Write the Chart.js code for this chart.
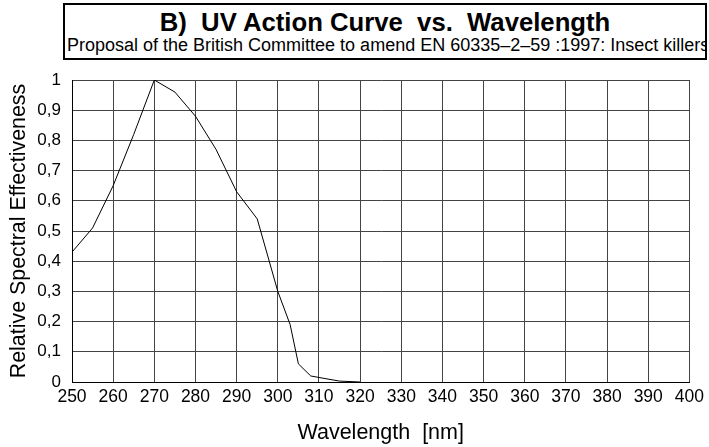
<!DOCTYPE html>
<html>
<head>
<meta charset="utf-8">
<script src="https://cdn.jsdelivr.net/npm/chart.js@4/dist/chart.umd.min.js"></script>
<style>
  body { margin: 0; background: #fff; font-family: "Liberation Sans", Arial, sans-serif; }
  #wrap { position: relative; width: 709px; height: 447px; }
  #titleBox {
    position: absolute; left: 63px; top: 3px; width: 640px; height: 53px;
    border: 2px solid #000; overflow: hidden; white-space: nowrap; background: #fff;
  }
  #titleBox .main { position: absolute; left: 0; right: 0; top: 2px; text-align: center; font-weight: bold; font-size: 25.7px; line-height: 30px; }
  #titleBox .sub { position: absolute; left: 2px; top: 30px; font-size: 18px; line-height: 21px; }
</style>
</head>
<body>
<div id="wrap">
  <canvas id="chart" width="709" height="447"></canvas>
  <div id="titleBox">
    <div class="main">B)&nbsp; UV Action Curve&nbsp; vs.&nbsp; Wavelength</div>
    <div class="sub">Proposal of the British Committee to amend EN 60335–2–59 :1997: Insect killers</div>
  </div>
</div>
<script>
// wavelength in nm
const wavelengths = [250, 255, 260, 265, 270, 275, 280, 285, 290, 295, 300, 303, 305, 308, 310, 315, 320];
// relative spectral effectiveness
const effectiveness = [0.43, 0.51, 0.65, 0.82, 1.0, 0.96, 0.88, 0.77, 0.63, 0.54, 0.30, 0.19, 0.06, 0.02, 0.015, 0.003, 0];

const points = wavelengths.map((w, i) => ({ x: w, y: effectiveness[i] }));

const ctx = document.getElementById("chart").getContext("2d");
new Chart(ctx, {
  type: "line",
  data: {
    datasets: [{
      data: points,
      borderColor: "#000",
      borderWidth: 1,
      pointRadius: 0,
      tension: 0,
      fill: false
    }]
  },
  options: {
    responsive: false,
    animation: false,
    layout: { padding: { top: 80, right: 15, bottom: 0, left: 0 } },
    plugins: { legend: { display: false }, tooltip: { enabled: false } },
    scales: {
      x: {
        type: "linear",
        min: 250,
        max: 400,
        afterFit: s => { s.height = 65; },
        ticks: { stepSize: 10, color: "#000", padding: 5, maxRotation: 0, font: { family: "Liberation Sans", size: 17.5 } },
        grid: { color: "#444", lineWidth: 1, drawTicks: false },
        border: { color: "#000", width: 1 },
        title: { display: true, text: "Wavelength  [nm]", color: "#000", padding: { top: 0, bottom: 1 }, font: { family: "Liberation Sans", size: 21.5 } }
      },
      y: {
        min: 0,
        max: 1,
        afterFit: s => { s.width = 72; },
        ticks: {
          stepSize: 0.1,
          color: "#000",
          padding: 11,
          font: { family: "Liberation Sans", size: 17 },
          callback: v => (Math.round(v * 10) / 10).toString().replace(".", ",")
        },
        grid: { color: "#444", lineWidth: 1, drawTicks: false },
        border: { color: "#000", width: 1 },
        title: { display: true, text: "Relative Spectral Effectiveness", color: "#000", padding: { top: 6, bottom: 0 }, font: { family: "Liberation Sans", size: 21.4 } }
      }
    }
  }
});
</script>
</body>
</html>
